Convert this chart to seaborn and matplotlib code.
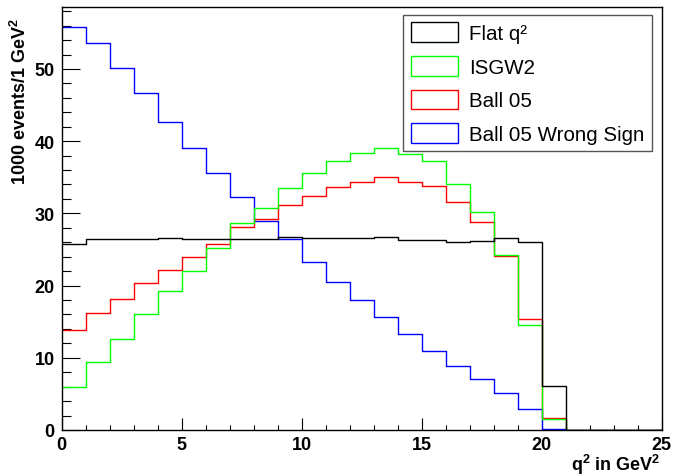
import numpy as np
import pandas as pd
import matplotlib
matplotlib.use("Agg")
import matplotlib.pyplot as plt
from matplotlib.patches import Patch
from matplotlib.ticker import MultipleLocator
import seaborn as sns

# ---- data (1 GeV^2 bins from 0 to 25) ----
bin_edges = list(range(0, 26))
flat_q2 = [25.8, 26.5, 26.4, 26.5, 26.6, 26.4, 26.4, 26.5, 26.45, 26.7, 26.6, 26.6, 26.6,
           26.7, 26.3, 26.25, 26.0, 26.2, 26.6, 26.1, 6.1, 0, 0, 0, 0]
isgw2 = [6.0, 9.4, 12.6, 16.1, 19.2, 22.0, 25.2, 28.7, 30.8, 33.5, 35.6, 37.3, 38.4,
         39.1, 38.2, 37.3, 34.1, 30.2, 24.3, 14.5, 1.5, 0, 0, 0, 0]
ball05 = [13.8, 16.2, 18.2, 20.4, 22.2, 23.9, 25.8, 28.1, 29.2, 31.2, 32.4, 33.6, 34.4,
          35.0, 34.4, 33.75, 31.6, 28.8, 24.1, 15.4, 1.6, 0, 0, 0, 0]
ball05_ws = [55.8, 53.6, 50.2, 46.7, 42.6, 39.1, 35.6, 32.2, 29.0, 26.5, 23.2, 20.5, 18.0,
             15.6, 13.3, 11.0, 8.9, 7.1, 5.1, 2.9, 0.2, 0, 0, 0, 0]
series_names = ["Flat q²", "ISGW2", "Ball 05", "Ball 05 Wrong Sign"]
series_values = [flat_q2, isgw2, ball05, ball05_ws]
colors = ["#000000", "#00ff00", "#ff0000", "#0000ff"]

centers = [(a + b) / 2 for a, b in zip(bin_edges[:-1], bin_edges[1:])]
rows = []
for name, vals in zip(series_names, series_values):
    for c, v in zip(centers, vals):
        rows.append({"q2": c, "w": v, "model": name})
df = pd.DataFrame(rows)

sns.set_style("white")
plt.rcParams["font.family"] = ["Liberation Sans", "DejaVu Sans"]
plt.rcParams["text.color"] = "black"
plt.rcParams["xtick.color"] = "black"
plt.rcParams["ytick.color"] = "black"
plt.rcParams["axes.labelcolor"] = "black"

W, H = 674, 477
fig = plt.figure(figsize=(W / 100, H / 100), dpi=100)
x0, x1, ytop, ybot = 61.7, 661.7, 7.5, 431.0
ax = fig.add_axes([x0 / W, 1 - ybot / H, (x1 - x0) / W, (ybot - ytop) / H])

sns.histplot(data=df, x="q2", weights="w", hue="model", hue_order=series_names,
             palette=dict(zip(series_names, colors)), bins=bin_edges,
             element="step", fill=False, linewidth=1.0, legend=False, ax=ax)

ax.set_xlim(0, 25)
ax.set_ylim(0, 58.65)
ax.set_xlabel("")
ax.set_ylabel("")
ax.xaxis.set_major_locator(MultipleLocator(5))
ax.xaxis.set_minor_locator(MultipleLocator(1))
ax.yaxis.set_major_locator(MultipleLocator(10))
ax.yaxis.set_minor_locator(MultipleLocator(2))
ax.tick_params(which="both", bottom=True, left=True, top=False, right=False,
               colors="black", labelcolor="black")
ax.tick_params(axis="x", which="major", direction="in", length=8.6, width=0.8, pad=4,
               labelsize=13)
ax.tick_params(axis="x", which="minor", direction="in", length=3.6, width=0.8)
ax.tick_params(axis="y", which="major", direction="in", length=13, width=0.8, pad=5,
               labelsize=13)
ax.tick_params(axis="y", which="minor", direction="in", length=6.5, width=0.8)
for lab in ax.get_xticklabels() + ax.get_yticklabels():
    lab.set_fontweight("bold")
for s in ax.spines.values():
    s.set_color("black")
    s.set_linewidth(1.0)

fig.text(660 / W, 1 - 465 / H, "q$^{\\mathregular{2}}$ in GeV$^{\\mathregular{2}}$",
         ha="right", va="center", fontsize=13, fontweight="bold", color="black")
fig.text(20 / W, 1 - 18 / H, "1000 events/1 GeV$^{\\mathregular{2}}$", rotation=90,
         ha="center", va="top", fontsize=13, fontweight="bold", color="black")

handles = [Patch(facecolor="white", edgecolor=c, linewidth=1.0) for c in colors]
leg = ax.legend(handles, series_names, loc="upper right",
                bbox_to_anchor=((652 - x0) / (x1 - x0), (ybot - 16) / (ybot - ytop)),
                borderaxespad=0, fontsize=14.8, handlelength=2.3, handleheight=1.1,
                handletextpad=0.55, labelspacing=0.62, borderpad=0.36,
                frameon=True, fancybox=False, framealpha=1)
leg.get_frame().set_edgecolor("#555555")
leg.get_frame().set_linewidth(1.0)
for t in leg.get_texts():
    t.set_color("black")

fig.savefig("out.png", dpi=100)
